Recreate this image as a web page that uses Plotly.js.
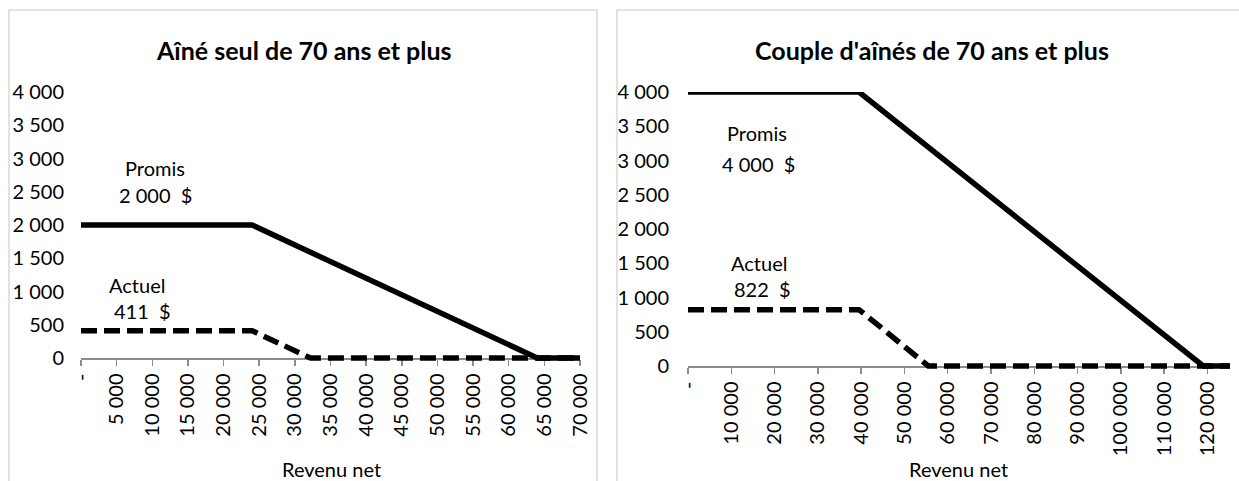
<!DOCTYPE html>
<html>
<head>
<meta charset="utf-8">
<script src="https://cdn.plot.ly/plotly-3.0.1.min.js"></script>
<style>html,body{margin:0;padding:0;background:#fff;}#chart{width:1239px;height:481px;}</style>
</head>
<body>
<div id="chart"></div>
<script>
// ----- Data -----
const leftTitle = "Aîné seul de 70 ans et plus";
const rightTitle = "Couple d'aînés de 70 ans et plus";
const xAxisTitle = "Revenu net";

const leftPromisX = [0, 24000, 64000, 70000];
const leftPromisY = [2000, 2000, 0, 0];
const leftActuelX = [0, 24000, 32200, 70000];
const leftActuelY = [411, 411, 0, 0];

const rightPromisX = [0, 39500, 119000, 125200];
const rightPromisY = [4000, 4000, 0, 0];
const rightActuelX = [0, 39500, 55500, 125200];
const rightActuelY = [822, 822, 0, 0];

const leftTickVals = [0, 5000, 10000, 15000, 20000, 25000, 30000, 35000, 40000, 45000, 50000, 55000, 60000, 65000, 70000];
const leftTickText = ["-", "5 000", "10 000", "15 000", "20 000", "25 000", "30 000", "35 000", "40 000", "45 000", "50 000", "55 000", "60 000", "65 000", "70 000"];
const rightTickVals = [0, 10000, 20000, 30000, 40000, 50000, 60000, 70000, 80000, 90000, 100000, 110000, 120000];
const rightTickText = ["-", "10 000", "20 000", "30 000", "40 000", "50 000", "60 000", "70 000", "80 000", "90 000", "100 000", "110 000", "120 000"];
const yTickVals = [0, 500, 1000, 1500, 2000, 2500, 3000, 3500, 4000];
const yTickText = ["0", "500", "1 000", "1 500", "2 000", "2 500", "3 000", "3 500", "4 000"];

const labelPromisLeft = ["Promis", "2 000  $"];
const labelActuelLeft = ["Actuel", "411  $"];
const labelPromisRight = ["Promis", "4 000  $"];
const labelActuelRight = ["Actuel", "822  $"];

// ----- Figure -----
const W = 1239, H = 481;
const FONT = "Lato, 'Open Sans', sans-serif";
const FS = 20;
const px = v => v / W;
const py = v => 1 - v / H;
const Y_PAD = 150; // small headroom below zero so thick lines at 0 aren't clipped

// left plot: value 0 at pixel 358, 4000 at pixel 92
const lScale = (358 - 92) / 4000;
const lBottom = 358 + Y_PAD * lScale;
// right plot: value 0 at pixel 366, 4000 at pixel 92
const rScale = (366 - 92) / 4000;
const rBottom = 366 + Y_PAD * rScale;

const solid = {color: "#000", width: 5.5};
const dashed = {color: "#000", width: 5.5, dash: "16px,7px"};

const traces = [
  {x: leftPromisX, y: leftPromisY, xaxis: "x", yaxis: "y", mode: "lines", line: solid, name: "Promis"},
  {x: leftActuelX, y: leftActuelY, xaxis: "x", yaxis: "y", mode: "lines", line: dashed, name: "Actuel"},
  {x: rightPromisX, y: rightPromisY, xaxis: "x2", yaxis: "y2", mode: "lines", line: solid, name: "Promis"},
  {x: rightActuelX, y: rightActuelY, xaxis: "x2", yaxis: "y2", mode: "lines", line: dashed, name: "Actuel"}
];

const xCommon = {
  showgrid: false, zeroline: false, showline: true, linecolor: "#8c8c8c", linewidth: 1.5,
  ticks: "outside", ticklen: 6, tickwidth: 1.5, tickcolor: "#8c8c8c",
  tickmode: "array", tickangle: -90, tickfont: {family: FONT, size: FS, color: "#000"},
  fixedrange: true, layer: "below traces"
};
const yCommon = {
  showgrid: false, zeroline: false, showline: false, ticks: "",
  tickmode: "array", tickvals: yTickVals, ticktext: yTickText,
  tickfont: {family: FONT, size: FS, color: "#000"}, range: [-Y_PAD, 4000], fixedrange: true
};

const ann = (text, x, y, xr, yr) => ({text: text, x: x, y: y, xref: xr, yref: yr, showarrow: false,
  font: {family: FONT, size: FS, color: "#000"}, xanchor: "center", yanchor: "middle"});

const layout = {
  width: W, height: H,
  margin: {l: 0, r: 0, t: 0, b: 0},
  paper_bgcolor: "#fff", plot_bgcolor: "rgba(0,0,0,0)",
  showlegend: false,
  xaxis: Object.assign({}, xCommon, {domain: [px(81), px(580)], range: [0, 70000],
    anchor: "free", position: py(358),
    tickvals: leftTickVals, ticktext: leftTickText}),
  yaxis: Object.assign({}, yCommon, {domain: [py(lBottom), py(92)], anchor: "x", ticklabelstandoff: 16}),
  xaxis2: Object.assign({}, xCommon, {domain: [px(688), px(1230)], range: [0, 125200],
    anchor: "free", position: py(366),
    tickvals: rightTickVals, ticktext: rightTickText}),
  yaxis2: Object.assign({}, yCommon, {domain: [py(rBottom), py(92)], anchor: "x2", ticklabelstandoff: 18}),
  shapes: [
    {type: "rect", xref: "paper", yref: "paper", x0: px(9), x1: px(597), y0: -0.05, y1: py(10),
      line: {color: "#d9d9d9", width: 1.5}},
    {type: "rect", xref: "paper", yref: "paper", x0: px(617), x1: 1.05, y0: -0.05, y1: py(10),
      line: {color: "#d9d9d9", width: 1.5}}
  ],
  annotations: [
    {text: "<b>" + leftTitle + "</b>", xref: "paper", yref: "paper", x: px(304), y: py(50),
      showarrow: false, xanchor: "center", yanchor: "middle", font: {family: FONT, size: 25, color: "#000"}},
    {text: "<b>" + rightTitle + "</b>", xref: "paper", yref: "paper", x: px(932), y: py(50),
      showarrow: false, xanchor: "center", yanchor: "middle", font: {family: FONT, size: 25, color: "#000"}},
    {text: xAxisTitle, xref: "paper", yref: "paper", x: px(331), y: py(469),
      showarrow: false, xanchor: "center", yanchor: "middle", font: {family: FONT, size: FS, color: "#000"}},
    {text: xAxisTitle, xref: "paper", yref: "paper", x: px(958), y: py(469),
      showarrow: false, xanchor: "center", yanchor: "middle", font: {family: FONT, size: FS, color: "#000"}},
    ann(labelPromisLeft[0], 10400, 2857, "x", "y"),
    ann(labelPromisLeft[1], 10400, 2451, "x", "y"),
    ann(labelActuelLeft[0], 7900, 1098, "x", "y"),
    ann(labelActuelLeft[1], 8600, 707, "x", "y"),
    ann(labelPromisRight[0], 15900, 3400, "x2", "y2"),
    ann(labelPromisRight[1], 16200, 2950, "x2", "y2"),
    ann(labelActuelRight[0], 16300, 1510, "x2", "y2"),
    ann(labelActuelRight[1], 17100, 1120, "x2", "y2")
  ]
};

Plotly.newPlot("chart", traces, layout, {staticPlot: true, displayModeBar: false});
</script>
</body>
</html>
